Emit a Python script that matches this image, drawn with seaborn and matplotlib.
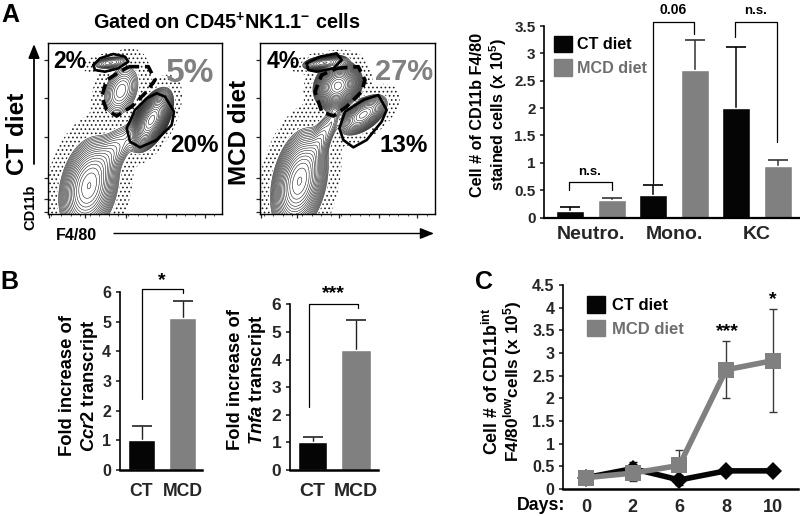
import numpy as np
import pandas as pd
import matplotlib
matplotlib.use("Agg")
import matplotlib.pyplot as plt
from matplotlib.patches import Patch
import seaborn as sns

sns.set_theme(style="white")
plt.rcParams.update({
    "font.family": ["Liberation Sans", "DejaVu Sans"],
    "font.weight": "bold",
    "mathtext.fontset": "custom",
    "mathtext.rm": "Liberation Sans:bold",
    "mathtext.bf": "Liberation Sans:bold",
    "mathtext.it": "Liberation Sans:italic:bold",
    "mathtext.bfit": "Liberation Sans:italic:bold",
    "hatch.linewidth": 0.7,
    "hatch.color": "#222222",
    "text.color": "black",
    "axes.edgecolor": "black",
})

W, H = 800, 516
BLACK, GREY = "#050505", "#808080"

# Panel A bars
cell_types = ["Neutro.", "Mono.", "KC"]
a_ct = [0.12, 0.41, 2.0]
a_mcd = [0.32, 2.69, 0.95]
a_ct_top = [0.19, 0.60, 3.12]
a_mcd_top = [0.35, 3.25, 1.06]

# Panel B bars
b_groups = ["CT", "MCD"]
ccr2 = [1.0, 5.13]
ccr2_top = [1.47, 5.70]
tnfa = [1.0, 4.33]
tnfa_top = [1.18, 5.42]

# Panel C time course
days = ["0", "2", "6", "8", "10"]
c_ct = [0.25, 0.45, 0.20, 0.40, 0.40]
c_ct_low = [0.25, 0.33, 0.08, 0.40, 0.40]
c_ct_high = [0.25, 0.60, 0.30, 0.40, 0.40]
c_mcd = [0.25, 0.35, 0.52, 2.63, 2.83]
c_mcd_low = [0.20, 0.17, 0.40, 2.01, 1.69]
c_mcd_high = [0.30, 0.50, 0.85, 3.27, 3.97]

# Flow populations: amplitude, x, y, sd x, sd y, correlation
flow_ct = [
    (0.30, 0.235, 0.16, 0.062, 0.105, 0.25),
    (0.040, 0.34, 0.33, 0.075, 0.090, 0.72),
    (0.010, 0.47, 0.47, 0.030, 0.050, 0.60),
    (1.00, 0.595, 0.55, 0.040, 0.060, 0.55),
    (0.050, 0.42, 0.72, 0.047, 0.068, 0.30),
    (0.035, 0.36, 0.885, 0.047, 0.018, 0.35),
]
flow_mcd = [
    (0.35, 0.225, 0.19, 0.058, 0.110, 0.30),
    (0.035, 0.33, 0.40, 0.052, 0.100, 0.80),
    (0.012, 0.42, 0.56, 0.022, 0.060, 0.60),
    (0.90, 0.445, 0.75, 0.045, 0.047, 0.15),
    (0.20, 0.59, 0.58, 0.052, 0.045, 0.55),
    (0.15, 0.37, 0.885, 0.050, 0.018, 0.35),
]


def px_axes(fig, x0, x1, ytop, ybot, **kw):
    return fig.add_axes([x0 / W, 1 - ybot / H, (x1 - x0) / W, (ybot - ytop) / H], **kw)


def density(peaks):
    xs, ys = np.meshgrid(np.linspace(0, 1, 350), np.linspace(0, 1, 350))
    total = np.zeros_like(xs)
    for amp, cx, cy, sx, sy, r in peaks:
        u, v = (xs - cx) / sx, (ys - cy) / sy
        total += amp * np.exp(-(u * u - 2 * r * u * v + v * v) / (2 * (1 - r * r)))
    return xs, ys, total


def flow(ax, peaks):
    xs, ys, f = density(peaks)
    levels = np.geomspace(0.006, f.max() * 0.9, 24)
    cs = ax.contourf(xs, ys, f, levels=[6e-5, 0.006], colors=["white"], hatches=["...."])
    cs.set_edgecolor("#222222")
    cs.set_linewidth(0)
    ax.contourf(xs, ys, f, levels=[0.006, 10], colors="white")
    ax.contour(xs, ys, f, levels=levels[:1], colors="white", linewidths=2.2)
    ax.contour(xs, ys, f, levels=levels, colors="#111111", linewidths=0.38)
    ax.set_xlim(0, 1)
    ax.set_ylim(0, 1)
    ax.set_xticks([0.005, 0.21, 0.45, 0.68, 0.90])
    ax.set_yticks([0.01, 0.09, 0.21, 0.45, 0.68, 0.90])
    ax.set_xticklabels([])
    ax.set_yticklabels([])
    ax.set_xticks(np.arange(0.02, 1, 0.055), minor=True)
    ax.tick_params(which="major", length=3, width=0.9, bottom=True, left=True)
    ax.tick_params(which="minor", length=1.5, width=0.6, bottom=True)
    for s in ax.spines.values():
        s.set_linewidth(1.0)
        s.set_visible(True)
        s.set_color("black")


def style_axes(ax, size=11):
    sns.despine(ax=ax)
    ax.spines["left"].set_linewidth(1.2)
    ax.spines["bottom"].set_linewidth(1.8)
    ax.tick_params(axis="y", left=True, length=3, width=1.2, labelsize=size, pad=3)
    ax.tick_params(axis="x", bottom=False, pad=4)
    ax.set_xlabel("")
    ax.set_ylabel("")
    ax.patch.set_alpha(0)


def upper_err(ax, xs, vals, tops, color, capw, lw=1.1):
    eb = ax.errorbar(xs, vals, yerr=[np.zeros(len(vals)), np.array(tops) - np.array(vals)],
                     fmt="none", ecolor=color, elinewidth=lw, capsize=capw, capthick=1.2, zorder=0.5)
    eb[1][0].set_visible(False)


fig = plt.figure(figsize=(W / 100, H / 100), dpi=100)

# Flow panels
ax_f1 = px_axes(fig, 48, 222, 43, 214)
flow(ax_f1, flow_ct)
ax_f2 = px_axes(fig, 260, 435, 43, 214)
flow(ax_f2, flow_mcd)

# Panel A bars
ax_a = px_axes(fig, 544, 800, 26, 217.5)
df_a = pd.DataFrame({
    "cell": cell_types * 2,
    "diet": ["CT diet"] * 3 + ["MCD diet"] * 3,
    "value": a_ct + a_mcd,
})
sns.barplot(data=df_a, x="cell", y="value", hue="diet", ax=ax_a, width=1.0, gap=0.33,
            palette={"CT diet": BLACK, "MCD diet": GREY}, saturation=1, legend=False)
pos = np.arange(3)
upper_err(ax_a, pos - 0.25, a_ct, a_ct_top, "black", 7)
upper_err(ax_a, pos + 0.25, a_mcd, a_mcd_top, "#333333", 7)
ax_a.set_xlim(-0.566, 2.518)
ax_a.set_ylim(0, 3.5)
ax_a.set_yticks([0, 0.5, 1, 1.5, 2, 2.5, 3, 3.5])
ax_a.set_yticklabels(["0", "0.5", "1", "1.5", "2", "2.5", "3", "3.5"])
style_axes(ax_a, 11)
ax_a.tick_params(axis="x", labelsize=14, pad=0)
ax_a.spines["bottom"].set_linewidth(1.6)
ax_a.legend(handles=[Patch(color=BLACK, label="CT diet"), Patch(color=GREY, label="MCD diet")],
            loc="upper left", bbox_to_anchor=(553.5 / W, 1 - 35.5 / H),
            bbox_transform=fig.transFigure, frameon=False, fontsize=11.6, borderpad=0,
            borderaxespad=0, handlelength=1.16, handleheight=1.16, handletextpad=0.28,
            labelspacing=0.46, labelcolor=["black", "#6e6e6e"])

# Panel B bars
for key, vals, tops, box, fs, lab in [
    ("ccr2", ccr2, ccr2_top, (119.5, 202, 292, 470), 12.7, 11.5),
    ("tnfa", tnfa, tnfa_top, (289.5, 378, 304.3, 470), 14, 12.5),
]:
    ax = px_axes(fig, box[0], box[1], box[2], box[3])
    df = pd.DataFrame({"group": b_groups, "value": vals})
    sns.barplot(data=df, x="group", y="value", hue="group", ax=ax, width=0.67,
                palette={"CT": BLACK, "MCD": GREY}, saturation=1, legend=False)
    upper_err(ax, [0, 1], vals, tops, "#222222", 7, lw=1.0)
    step = 41.0 if key == "ccr2" else 43.5
    x0 = 141.5 if key == "ccr2" else 312.5
    ax.set_xlim((box[0] - x0) / step, (box[1] - x0) / step)
    ax.set_ylim(0, 6)
    ax.set_yticks(range(7))
    ax.set_yticklabels([str(i) for i in range(7)])
    style_axes(ax, lab)
    ax.tick_params(axis="x", labelsize=fs, pad=3)

# Panel C
ax_c = px_axes(fig, 563, 798, 285, 489)
df_c = pd.DataFrame({
    "day": list(range(5)) * 2,
    "diet": ["CT diet"] * 5 + ["MCD diet"] * 5,
    "value": c_ct + c_mcd,
})
idx = np.arange(5)
ax_c.errorbar(idx, c_ct, yerr=[np.array(c_ct) - np.array(c_ct_low), np.array(c_ct_high) - np.array(c_ct)],
              fmt="none", ecolor="black", elinewidth=1, capsize=3, zorder=1)
ax_c.errorbar(idx, c_mcd, yerr=[np.array(c_mcd) - np.array(c_mcd_low), np.array(c_mcd_high) - np.array(c_mcd)],
              fmt="none", ecolor="#3a3a3a", elinewidth=1, capsize=3, zorder=1)
sns.lineplot(data=df_c, x="day", y="value", hue="diet", style="diet", ax=ax_c,
             palette={"CT diet": BLACK, "MCD diet": GREY},
             markers={"CT diet": "D", "MCD diet": "s"}, dashes=False, errorbar=None,
             linewidth=4, markersize=9.5, markeredgewidth=0, legend=False, zorder=3)
ax_c.lines[-1].set_markersize(11.5)
ax_c.set_xlim(-0.49, 4.54)
ax_c.set_ylim(0, 4.5)
ax_c.set_xticks(idx)
ax_c.set_xticklabels(days)
ax_c.set_yticks(np.arange(0, 4.6, 0.5))
ax_c.set_yticklabels(["0", "0.5", "1", "1.5", "2", "2.5", "3", "3.5", "4", "4.5"])
style_axes(ax_c, 11.5)
ax_c.tick_params(axis="x", labelsize=13, pad=1)
ax_c.legend(handles=[Patch(color=BLACK, label="CT diet"), Patch(color=GREY, label="MCD diet")],
            loc="upper left", bbox_to_anchor=(587 / W, 1 - 296 / H), bbox_transform=fig.transFigure,
            frameon=False, fontsize=12, borderpad=0, borderaxespad=0, handlelength=1.07,
            handleheight=1.15, handletextpad=0.42, labelspacing=0.42, labelcolor=["black", "#6e6e6e"])

# Overlay for annotation in pixel units
ov = fig.add_axes([0, 0, 1, 1], zorder=20)
ov.set_xlim(0, W)
ov.set_ylim(H, 0)
ov.axis("off")
ov.patch.set_alpha(0)


def txt(x, y, s, size, color="black", rot=0, **kw):
    ov.text(x, y, s, fontsize=size, color=color, rotation=rot, ha="center", va="center",
            fontweight="bold", **kw)


def zpoly(points, ox=0, oy=0, close=False, **kw):
    p = np.array(points, float) / 3 + [ox, oy]
    if close:
        p = np.vstack([p, p[:1]])
    ov.plot(p[:, 0], p[:, 1], solid_capstyle="round", **kw)


# Gates
solid = dict(color="black", lw=1.9)
dash = dict(color="black", lw=2.6, ls=(0, (3.0, 1.6)))
zpoly([(470, 280), (495, 290), (522, 335), (515, 375), (470, 420), (420, 442), (390, 425), (380, 385), (405, 330), (440, 295)], close=True, **solid)
zpoly([(385, 200), (445, 200), (465, 240), (440, 275), (395, 320), (350, 348), (320, 330), (305, 290), (320, 240)], close=True, **dash)
zpoly([(280, 195), (300, 175), (340, 162), (375, 170), (385, 185), (355, 205), (315, 215), (285, 210)], close=True, **solid)
zpoly([(1090, 300), (1135, 285), (1160, 330), (1145, 365), (1100, 420), (1060, 442), (1030, 420), (1018, 385), (1035, 335)], close=True, **solid)
zpoly([(1010, 205), (1075, 200), (1095, 240), (1085, 275), (1040, 320), (1000, 348), (965, 335), (945, 275), (965, 225)], close=True, **dash)
zpoly([(920, 190), (960, 170), (1010, 160), (1025, 180), (1000, 205), (950, 215), (925, 210)], close=True, **solid)

# Flow texts
txt(227, 23, r"Gated on CD45$^{+}$NK1.1$^{-}$ cells", 14.3)
txt(70, 61, "2%", 16.5)
txt(190, 74, "5%", 24, color=GREY)
txt(194, 146, "20%", 17.5)
txt(283, 61, "4%", 16.5)
txt(404, 72, "27%", 21, color=GREY)
txt(404, 146, "13%", 17.5)
txt(18, 134, "CT diet", 17.5, rot=90)
txt(239, 132, "MCD diet", 17.5, rot=90)
txt(30, 207, "CD11b", 10.5, rot=90)
txt(76, 235, "F4/80", 11.5)
ov.annotate("", xy=(34, 44), xytext=(34, 164),
            arrowprops=dict(arrowstyle="-|>,head_width=0.28,head_length=0.7", color="black", lw=1.3, shrinkA=0, shrinkB=0))
ov.annotate("", xy=(434, 233.5), xytext=(114, 233.5),
            arrowprops=dict(arrowstyle="-|>,head_width=0.28,head_length=0.7", color="black", lw=1.0, shrinkA=0, shrinkB=0))

# Panel letters
txt(10, 15, "A", 18)
txt(9, 282, "B", 18)
txt(484, 282, "C", 18)

# Panel A annotation
br = dict(color="black", lw=0.9)
zpoly([(358, 570), (358, 547), (485, 547), (485, 570)], ox=450, **br)
zpoly([(609, 550), (609, 67), (733, 67), (733, 103)], ox=450, **br)
zpoly([(855, 110), (855, 67), (980, 67), (980, 425)], ox=450, **br)
txt(590, 172, "n.s.", 9.5)
txt(673, 10, "0.06", 10)
txt(756, 11, "n.s.", 9.5)
txt(478, 115, "Cell # of CD11b F4/80", 11.7, rot=90)
txt(498, 115, r"stained cells (x 10$^{5}$)", 11.7, rot=90)

# Panel B annotation
zpoly([(427, 418), (427, 86), (549, 86), (549, 98)], oy=260, **br)
zpoly([(928, 440), (928, 131), (1073, 131), (1073, 143)], oy=260, **br)
txt(162, 281, "*", 14)
txt(333, 294, "***", 14)
txt(67, 386, "Fold increase of", 13.2, rot=90)
txt(89, 386, r"$\mathit{Ccr2}$ transcript", 13.2, rot=90)
txt(235, 380, "Fold increase of", 13.2, rot=90)
txt(258, 380, r"$\mathit{Tnfa}$ transcript", 13.2, rot=90)

# Panel C annotation
txt(727, 332, "***", 14)
txt(773, 300, "*", 14)
txt(492, 381, r"Cell # of CD11b$^{\mathrm{int}}$", 12.8, rot=90)
txt(513, 381, r"F4/80$^{\mathrm{low}}$cells (x 10$^{5}$)", 12.4, rot=90)
txt(541, 506, "Days:", 12.8)

fig.savefig("out.png", dpi=100)
